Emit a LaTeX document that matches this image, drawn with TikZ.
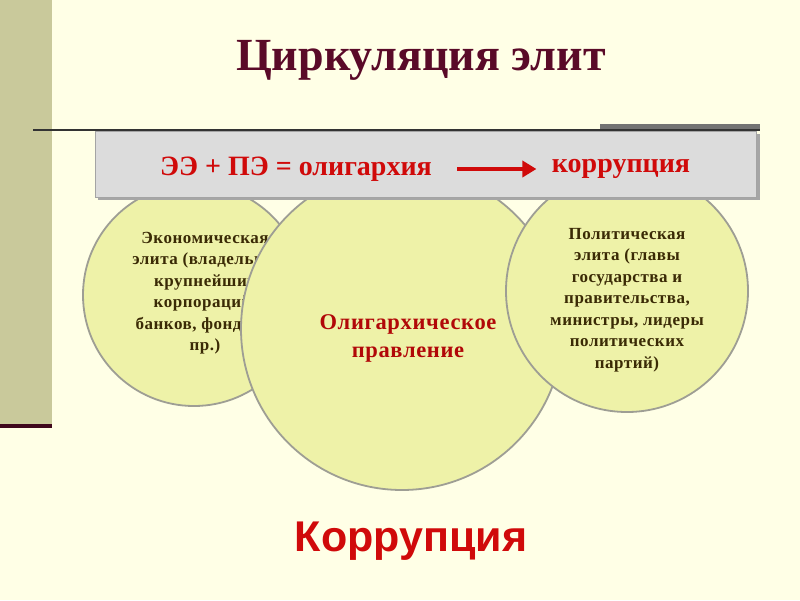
\documentclass[tikz,border=0pt]{standalone}
\usepackage{fontspec}
\setmainfont{Liberation Serif}
\newfontfamily\spacedserif[LetterSpace=3]{Liberation Serif}
\newfontfamily\sansb{Liberation Sans}
\usetikzlibrary{arrows.meta}
\definecolor{bgc}{HTML}{FFFFE6}
\definecolor{barc}{HTML}{C9C99B}
\definecolor{maroon}{HTML}{5A0A28}
\definecolor{circfill}{HTML}{EEF2A8}
\definecolor{circedge}{HTML}{9E9E94}
\definecolor{boxfill}{HTML}{DCDCDC}
\definecolor{boxedge}{HTML}{A4A4A4}
\definecolor{redt}{HTML}{D00A0A}
\definecolor{brownt}{HTML}{3A2A05}
\tikzset{
  circ/.style={circle, fill=circfill, draw=circedge, line width=1.8pt, inner sep=0pt},
  smalltxt/.style={font=\spacedserif\bfseries\fontsize{17}{21.5}\selectfont, text=brownt, align=center},
  boxtxt/.style={font=\bfseries\fontsize{28}{30}\selectfont, text=redt},
}
\begin{document}
\begin{tikzpicture}[x=1pt,y=-1pt]
\useasboundingbox (0,0) rectangle (800,600);
\fill[bgc] (0,0) rectangle (800,600);
% left bar
\fill[barc] (0,0) rectangle (52,426);
\fill[maroon!70!black] (0,424) rectangle (52,428);
% title
\node[font=\bfseries\fontsize{46}{50}\selectfont, text=maroon] (title) at (421,60) {Циркуляция элит};
% circles: left, with text
\node[circ, minimum size=222pt] (cl) at (194,295) {};
\node[smalltxt] (tl) at (205,293) {Экономическая\\элита (владельцы\\крупнейших\\корпораций,\\банков, фондов и\\пр.)};
% center circle
\node[circ, minimum size=322pt] (cc) at (402,329) {};
\node[font=\spacedserif\bfseries\fontsize{22.5}{28}\selectfont, text=redt!85!black, align=center] (tc) at (408,338) {Олигархическое\\правление};
% right circle
\node[circ, minimum size=242pt] (cr) at (627,291) {};
\node[smalltxt] (tr) at (627,300) {Политическая\\элита (главы\\государства и\\правительства,\\министры, лидеры\\политических\\партий)};
% top rule and box
\fill[black!55] (600,124) rectangle (760,130);
\draw[line width=2pt, black!80] (33,130) -- (760,130);
\fill[black!35] (98,134) rectangle (760,200);
\node[draw=boxedge, fill=boxfill, line width=1pt, minimum width=661pt, minimum height=66pt, inner sep=0pt] (box) at (426,164.5) {};
\node[boxtxt] (eq) at (296,169) {ЭЭ + ПЭ = олигархия};
\node[boxtxt] (kor) at (621,169) {коррупция};
\draw[line width=4.5pt, redt, -{Triangle[length=14pt,width=16pt]}] ([xshift=22pt]eq.east) -- ([xshift=-12pt]kor.west);
% bottom
\node[font=\sansb\bfseries\fontsize{43}{46}\selectfont, text=redt] (bot) at (411,541) {Коррупция};
\end{tikzpicture}
\end{document}
